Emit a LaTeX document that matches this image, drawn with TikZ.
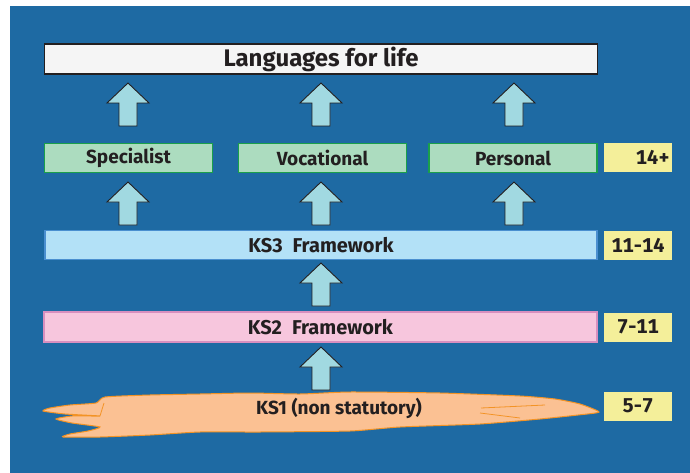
\documentclass[tikz,border=0pt]{standalone}
\usepackage{fontspec}
\setmainfont{Fira Sans}
\definecolor{bgblue}{HTML}{1E6AA3}
\definecolor{ink}{HTML}{231F20}
\definecolor{arrowfill}{HTML}{A1D9E1}
\definecolor{pathfill}{HTML}{ACDCBF}
\definecolor{pathline}{HTML}{1AA04A}
\definecolor{ksthree}{HTML}{B3E1F7}
\definecolor{ksthreeline}{HTML}{4A8FD0}
\definecolor{kstwo}{HTML}{F7C6DD}
\definecolor{kstwoline}{HTML}{D88FBF}
\definecolor{ksone}{HTML}{FBC193}
\definecolor{ksoneline}{HTML}{F39325}
\definecolor{agefill}{HTML}{F4EF9A}
\begin{document}
\begin{tikzpicture}[x=1pt,y=-1pt,font=\bfseries,text=ink,inner sep=0pt,
  bar/.style={draw,line width=1.2pt,minimum height=29,font=\bfseries\fontsize{19}{21}\selectfont},
  pathbox/.style={bar,fill=pathfill,draw=pathline,minimum width=168},
  agebox/.style={fill=agefill,minimum width=68,minimum height=29,
    font=\bfseries\fontsize{20}{22}\selectfont\addfontfeatures{Numbers=Monospaced}},
  uparrow/.pic={\draw[fill=arrowfill,draw=ink,line width=0.9pt,line join=miter]
    (0,0) -- (21,20) -- (9,20) -- (9,43) -- (-9,43) -- (-9,20) -- (-21,20) -- cycle;}]
\useasboundingbox (0,0) rectangle (690,473);
\fill[bgblue] (10,6) rectangle (690,473);
% main bars
\node[bar,fill=white!96!black,draw=ink,minimum width=553,minimum height=30,
  font=\bfseries\fontsize{24}{26}\selectfont] (lang) at (321,59) {Languages for life};
\node[pathbox] (spec) at (128.5,158) {Specialist};
\node[pathbox] (voc) at (322.5,158) {Vocational};
\node[pathbox] (pers) at (513,158) {Personal};
\node[bar,fill=ksthree,draw=ksthreeline,minimum width=552,font=\bfseries\fontsize{20}{22}\selectfont] (ks3) at (321,245) {KS3\enspace Framework};
\node[bar,fill=kstwo,draw=kstwoline,minimum width=553,minimum height=30,font=\bfseries\fontsize{20}{22}\selectfont] (ks2) at (320.5,327) {KS2\enspace Framework};
% KS1 cloud
\filldraw[fill=ksone,draw=ksoneline,line width=1pt]
  plot[smooth cycle,tension=0.35] coordinates {(599,412) (580,404) (555,399) (520,396) (440,393)
  (350,392) (300,394) (250,393) (200,394) (150,395) (105,397) (96,403) (70,405) (50,408) (43,411)
  (65,414) (100,416) (72,416) (56,419) (72,423) (100,427) (88,431) (70,434) (63,437)
  (100,437) (150,435) (200,432) (260,432) (350,431) (400,427) (480,424) (540,419) (578,415)};
\draw[ksoneline,line width=0.8pt] (481,408) -- (545,405) (480,413) -- (520,418) (100,416) -- (104,403);
\node[font=\bfseries\fontsize{19}{21}\selectfont] (ks1) at (339,408) {KS1 (non statutory)};
% ages
\node[agebox,align=right,text width=63] (a14) at (638,157.5) {14+};
\node[agebox] (a11) at (638,245.5) {11-14};
\node[agebox] (a7) at (638,327) {7-11};
\node[agebox] (a5) at (638,406) {5-7};
% arrows
\foreach \x in {128,321,514} {
  \pic at (\x,83) {uparrow};
  \pic at (\x,182) {uparrow};
}
\pic at (321,263) {uparrow};
\pic at (321,347) {uparrow};
\end{tikzpicture}
\end{document}
